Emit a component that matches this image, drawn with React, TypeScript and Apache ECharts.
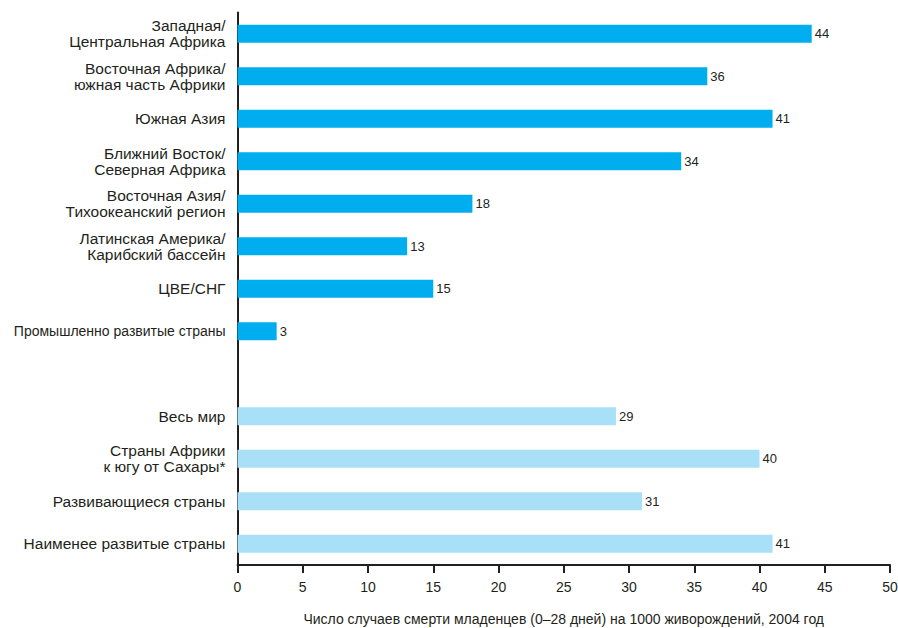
import React, { useEffect, useRef } from "react";
import * as echarts from "echarts";

const categories: string[] = [
  "Западная/\nЦентральная Африка",
  "Восточная Африка/\nюжная часть Африки",
  "Южная Азия",
  "Ближний Восток/\nСеверная Африка",
  "Восточная Азия/\nТихоокеанский регион",
  "Латинская Америка/\nКарибский бассейн",
  "ЦВЕ/СНГ",
  "Промышленно развитые страны",
  "",
  "Весь мир",
  "Страны Африки\nк югу от Сахары*",
  "Развивающиеся страны",
  "Наименее развитые страны",
];

// values per category (null = spacer row)
const regionValues: (number | null)[] = [44, 36, 41, 34, 18, 13, 15, 3, null, null, null, null, null];
const aggregateValues: (number | null)[] = [null, null, null, null, null, null, null, null, null, 29, 40, 31, 41];

const xTicks = { min: 0, max: 50, interval: 5 };
const axisTitle = "Число случаев смерти младенцев (0–28 дней) на 1000 живорождений, 2004 год";

const FONT = "'Liberation Sans', Arial, Helvetica, sans-serif";
const TEXT = "#231f20";
const LONG_LABEL_SIZE = 14;

export default function App() {
  const ref = useRef<HTMLDivElement>(null);
  useEffect(() => {
    if (!ref.current) return;
    const chart = echarts.init(ref.current, undefined, { renderer: "svg" });
    const label = {
      show: true,
      position: "right" as const,
      distance: 3,
      color: TEXT,
      fontSize: 13,
      fontFamily: FONT,
    };
    const axisData = categories.map((c) =>
      c.length > 24 && c.indexOf("\n") < 0
        ? { value: c, textStyle: { fontSize: LONG_LABEL_SIZE } }
        : c
    );
    chart.setOption({
      animation: false,
      backgroundColor: "#ffffff",
      grid: {
        left: 237.5,
        right: 8,
        top: 12.5,
        bottom: 63,
        containLabel: false,
        outerBoundsMode: "none",
      },
      xAxis: {
        type: "value",
        min: xTicks.min,
        max: xTicks.max,
        interval: xTicks.interval,
        name: axisTitle,
        nameLocation: "middle",
        nameGap: 47,
        nameTextStyle: { color: TEXT, fontSize: 14, fontFamily: FONT },
        axisLine: { show: true, lineStyle: { color: TEXT, width: 2 } },
        axisTick: { show: true, length: 8, lineStyle: { color: TEXT, width: 2 } },
        axisLabel: { color: TEXT, fontSize: 14, fontFamily: FONT, margin: 15 },
        splitLine: { show: false },
      },
      yAxis: {
        type: "category",
        data: axisData,
        inverse: true,
        axisLine: { show: true, lineStyle: { color: TEXT, width: 2 } },
        axisTick: { show: false },
        axisLabel: {
          color: TEXT,
          fontSize: 15.5,
          fontFamily: FONT,
          margin: 12,
          lineHeight: 16,
          align: "right",
        },
      },
      series: [
        {
          type: "bar",
          data: regionValues,
          barWidth: 18,
          barGap: "-100%",
          itemStyle: { color: "#00aeef" },
          label,
        },
        {
          type: "bar",
          data: aggregateValues,
          barWidth: 18,
          barGap: "-100%",
          itemStyle: { color: "#a8e0f8" },
          label,
        },
      ],
    });
    return () => chart.dispose();
  }, []);
  return (
    <div
      ref={ref}
      style={{ position: "fixed", left: 0, top: 0, width: 898, height: 628 }}
    />
  );
}
